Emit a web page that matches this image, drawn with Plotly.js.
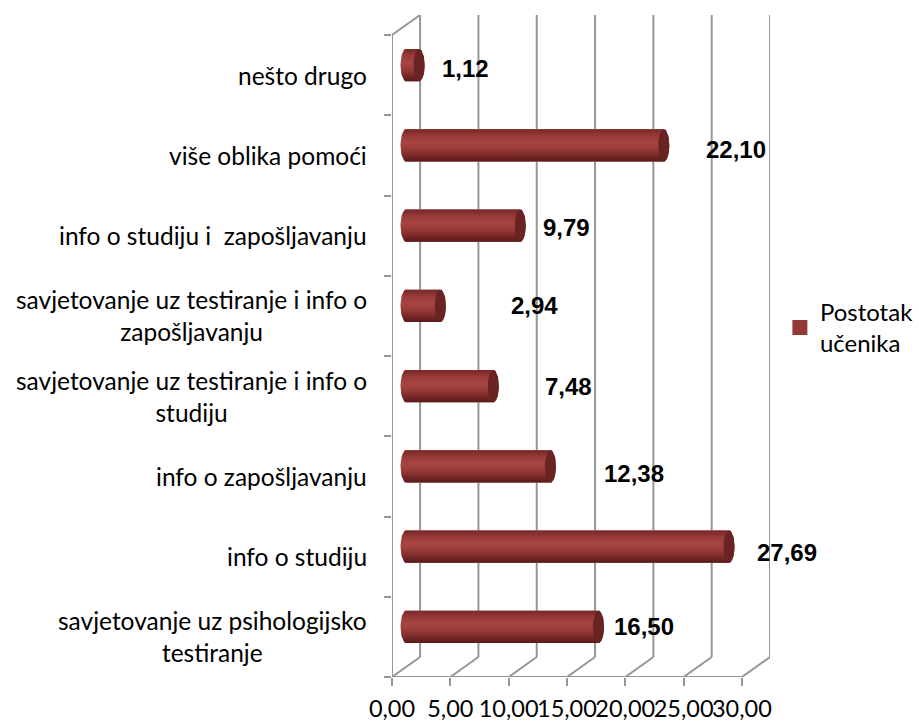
<!DOCTYPE html>
<html><head><meta charset="utf-8">
<script src="https://cdn.plot.ly/plotly-3.0.1.min.js"></script>
<style>html,body{margin:0;padding:0;background:#fff}</style></head>
<body><div id="chart" style="width:919px;height:722px"></div>
<script>
// Data, bottom to top as on the category axis
const categories = [
  "savjetovanje uz psihologijsko<br>testiranje",
  "info o studiju",
  "info o zapošljavanju",
  "savjetovanje uz testiranje i info o<br>studiju",
  "savjetovanje uz testiranje i info o<br>zapošljavanju",
  "info o studiju i  zapošljavanju",
  "više oblika pomoći",
  "nešto drugo"
];
const values = [16.50, 27.69, 12.38, 7.48, 2.94, 9.79, 22.10, 1.12];
const xTicks = [0, 5, 10, 15, 20, 25, 30];
const seriesName = "Postotak<br>učenika";

// Hand-placed data label offsets of the original (pixels)
const labelDx = [60, 72, 98, 89, 108, 60, 86, 60];
const labelDy = [10, 4, 3, 10, 10, 8, 6, 7];

// 3D look: depth of the chart box, in axis units
const pxX = 11.62, pxY = 80.1;
const depthX = 28 / pxX, depthY = 20 / pxY;
const midX = 14 / pxX, midY = 10 / pxY;
const capX = 5.5 / pxX, barH = 32 / pxY;
const fmt = v => v.toFixed(2).replace(".", ",");
const wall = "#969696";
const idx = categories.map((_, i) => i);

const traces = [];
// base bars (legend entry)
traces.push({
  type: "bar", orientation: "h", name: seriesName,
  x: values, y: idx.map(i => i + 0.5 + midY),
  base: midX, width: barH - 3 / pxY,
  marker: {color: "#953735", line: {color: "#953735", width: 3}},
  hoverinfo: "skip", showlegend: true
});
// chart box
const wx = [], wy = [];
const seg = (x0, y0, x1, y1) => { wx.push(x0, x1, null); wy.push(y0, y1, null); };
xTicks.forEach(v => {
  seg(v, 0, v + depthX, depthY);
  seg(v + depthX, depthY, v + depthX, categories.length + depthY);
});
seg(0, 0, 0, categories.length);
seg(0, categories.length, depthX, categories.length + depthY);
seg(0, 0, xTicks[xTicks.length - 1], 0);
traces.push({type: "scatter", mode: "lines", x: wx, y: wy, cliponaxis: false,
  line: {color: wall, width: 2}, hoverinfo: "skip", showlegend: false});
// cylinders
const N = 24;
values.forEach((v, i) => {
  const cy = i + 0.5 + midY, x0 = midX, x1 = midX + v;
  const bx = [], by = [], ex = [], ey = [];
  for (let k = 0; k <= N; k++) {           // rounded left end
    const t = Math.PI / 2 + Math.PI * k / N;
    bx.push(x0 + capX * Math.cos(t)); by.push(cy + barH / 2 * Math.sin(t));
  }
  for (let k = 0; k <= N; k++) {           // right end, outer side
    const t = -Math.PI / 2 + Math.PI * k / N;
    bx.push(x1 + capX * Math.cos(t)); by.push(cy + barH / 2 * Math.sin(t));
  }
  bx.push(bx[0]); by.push(by[0]);
  for (let k = 0; k <= 2 * N; k++) {
    const t = Math.PI * k / N;
    ex.push(x1 + capX * Math.cos(t)); ey.push(cy + barH / 2 * Math.sin(t));
  }
  traces.push({type: "scatter", mode: "lines", x: bx, y: by, fill: "toself",
    line: {width: 0, color: "#953735"}, hoverinfo: "skip", showlegend: false,
    fillgradient: {type: "vertical", colorscale: [
      [0, "#581b1a"], [0.15, "#732625"], [0.4, "#9c3c3a"], [0.6, "#a64543"],
      [0.8, "#973a38"], [0.95, "#7d2c2b"], [1, "#7a2a29"]]}});
  traces.push({type: "scatter", mode: "lines", x: ex, y: ey, fill: "toself",
    fillcolor: "#682322", line: {width: 0, color: "#682322"},
    hoverinfo: "skip", showlegend: false});
});

const annotations = [];
categories.forEach((c, i) => annotations.push({
  xref: "x", yref: "y", x: 0, y: i + 0.5, xshift: -23, text: c, showarrow: false,
  xanchor: "right", yanchor: "middle", align: "center",
  font: {family: "Lato, 'Noto Sans', sans-serif", size: 24.5, color: "#000"}
}));
values.forEach((v, i) => annotations.push({
  xref: "x", yref: "y", x: v, y: i + 0.5, xshift: labelDx[i], yshift: labelDy[i],
  text: "<b>" + fmt(v) + "</b>", showarrow: false, xanchor: "center", yanchor: "middle",
  font: {family: "'Liberation Sans', Arial, sans-serif", size: 24, color: "#000"}
}));

const layout = {
  width: 919, height: 722, autosize: false,
  margin: {l: 392, r: 0, t: 15, b: 45, pad: 0},
  paper_bgcolor: "#fff", plot_bgcolor: "rgba(0,0,0,0)",
  barmode: "overlay", showlegend: true,
  legend: {x: 0.7445, y: 0.585, xanchor: "left", yanchor: "top", entrywidth: 95, entrywidthmode: "pixels",
    bgcolor: "rgba(0,0,0,0)", itemclick: false, itemdoubleclick: false,
    font: {family: "Lato, 'Noto Sans', sans-serif", size: 24, color: "#000"}},
  xaxis: {type: "linear", domain: [0, 378 / 521], range: [0, xTicks[xTicks.length - 1] + depthX], fixedrange: true,
    tickmode: "array", tickvals: xTicks, ticktext: xTicks.map(fmt), tickangle: 0,
    ticks: "outside", ticklen: 8, tickwidth: 2, tickcolor: wall, ticklabelstandoff: 3,
    showgrid: false, zeroline: false, showline: false,
    tickfont: {family: "Lato, 'Noto Sans', sans-serif", size: 23.5, color: "#000"}},
  yaxis: {type: "linear", range: [0, categories.length + depthY], fixedrange: true,
    tickmode: "array", tickvals: [...idx, categories.length], ticktext: [...idx, categories.length].map(() => ""),
    ticks: "outside", ticklen: 7, tickwidth: 2, tickcolor: wall,
    showgrid: false, zeroline: false, showline: false},
  annotations
};
Plotly.newPlot("chart", traces, layout, {staticPlot: true, displayModeBar: false});
</script></body></html>
